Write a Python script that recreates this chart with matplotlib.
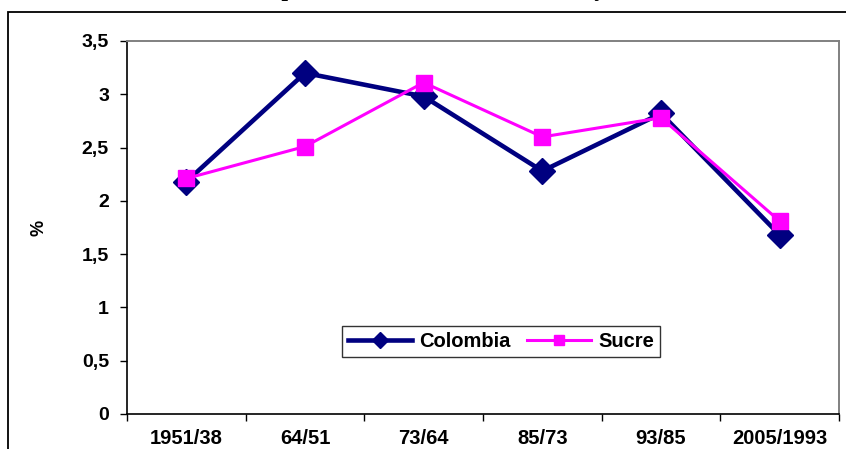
import matplotlib
matplotlib.use("Agg")
import matplotlib.pyplot as plt
from matplotlib.patches import Rectangle

categories = ["1951/38", "64/51", "73/64", "85/73", "93/85", "2005/1993"]
colombia = [2.18, 3.20, 2.98, 2.28, 2.82, 1.68]
sucre = [2.21, 2.51, 3.11, 2.60, 2.78, 1.81]
y_ticks = [0, 0.5, 1, 1.5, 2, 2.5, 3, 3.5]
y_tick_labels = ["0", "0,5", "1", "1,5", "2", "2,5", "3", "3,5"]
title_text = "Tasa de crecimiento de la población intercensal de Sucre y Colombia, 1938-2005"

W, H = 846, 449
fig = plt.figure(figsize=(W / 100, H / 100), dpi=100)
plt.rcParams['font.family'] = ['Liberation Sans', 'DejaVu Sans']

# outer chart frame (extends beyond the right and bottom edges)
fig.patches.append(Rectangle((8 / W, -0.2), 1.2, 1.2 - 12 / H, transform=fig.transFigure,
                             fill=False, edgecolor='black', linewidth=1.3, clip_on=False))

ax = fig.add_axes([127 / W, 1 - 414 / H, (839 - 127) / W, (414 - 41) / H])
x = list(range(len(categories)))
ax.plot(x, colombia, color='#000080', linewidth=3.3, marker='D', markersize=13,
        label='Colombia', zorder=3)
ax.plot(x, sucre, color='#FF00FF', linewidth=2.2, marker='s', markersize=11,
        label='Sucre', zorder=4)

ax.set_xlim(-0.5, len(categories) - 0.5)
ax.set_ylim(0, 3.5)
ax.set_yticks(y_ticks)
ax.set_yticklabels(y_tick_labels, fontsize=14, fontweight='bold')
ax.set_xticks(x)
ax.set_xticklabels(categories, fontsize=14.5, fontweight='bold')
ax.tick_params(axis='x', which='major', length=0, pad=11)
ax.set_xticks([i - 0.5 for i in range(len(categories) + 1)], minor=True)
ax.tick_params(axis='x', which='minor', length=5, width=1, direction='out', color='black')
ax.tick_params(axis='y', length=5, width=1, direction='out', pad=8, color='black')

for s in ['left', 'bottom']:
    ax.spines[s].set_color('black')
    ax.spines[s].set_linewidth(1.2)
for s in ['top', 'right']:
    ax.spines[s].set_color('#808080')
    ax.spines[s].set_linewidth(1.4)

ax.set_ylabel('%', fontsize=13, fontweight='bold')
ax.yaxis.set_label_coords((47 - 127) / 712, 0.5)

leg = ax.legend(loc='center', bbox_to_anchor=(501 / W, 1 - 341.5 / H),
                bbox_transform=fig.transFigure, ncol=2, frameon=True, fancybox=False,
                edgecolor='black', prop={'size': 14.5, 'weight': 'bold'},
                handlelength=3.2, handletextpad=0.35, columnspacing=0.8,
                markerscale=0.65, borderpad=0.3)
leg.get_frame().set_linewidth(1.0)

fig.text(0.5, 1 + 4 / H, title_text, ha='center', va='baseline',
         fontsize=17, fontweight='bold', family=['Liberation Serif', 'DejaVu Serif'])

fig.savefig('out.png', dpi=100)
